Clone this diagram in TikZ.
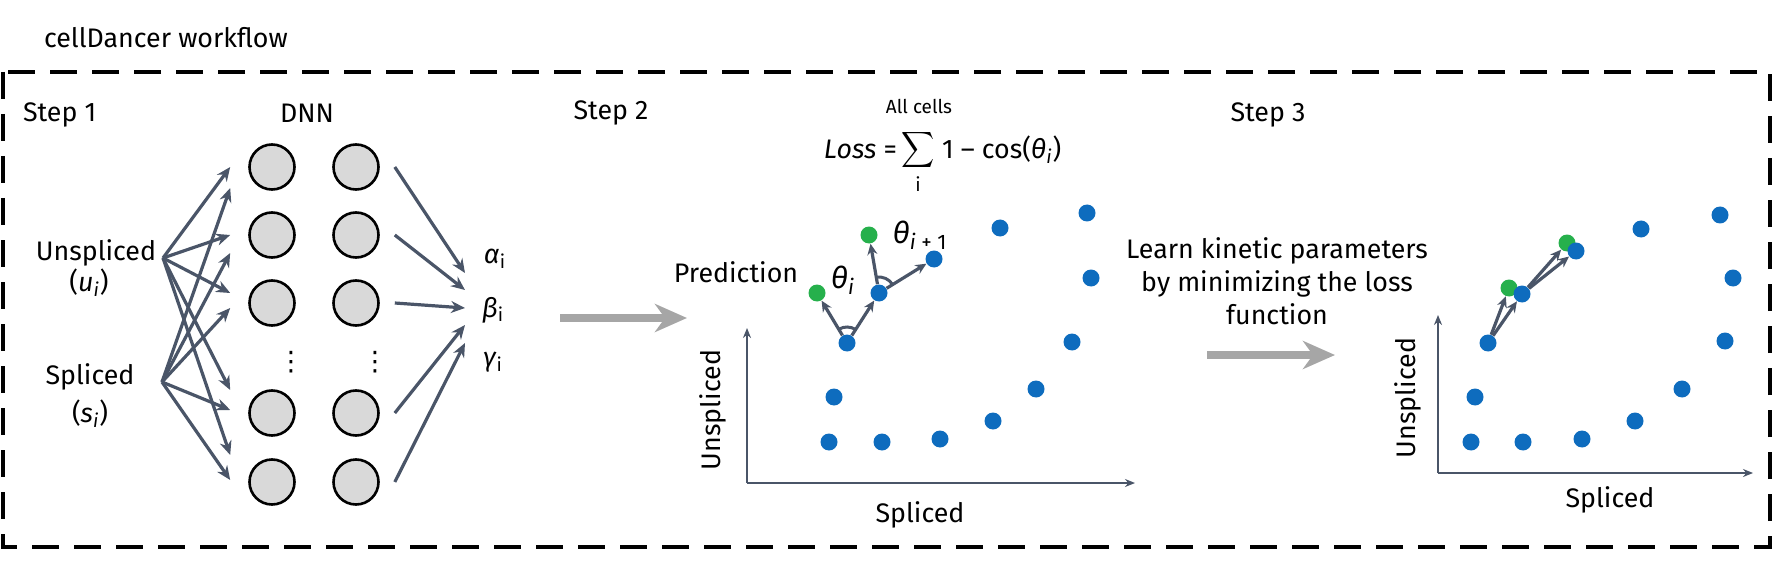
\documentclass[tikz,border=0pt]{standalone}
\usepackage{fontspec}
\setmainfont{Fira Sans}
\newfontfamily\symbolfont{DejaVu Sans}
\usepackage{tikz}
\usetikzlibrary{arrows.meta,positioning,calc,angles}
\definecolor{slate}{RGB}{74,85,104}
\definecolor{cellblue}{RGB}{14,108,190}
\definecolor{cellgreen}{RGB}{38,176,76}
\definecolor{neurongray}{RGB}{217,217,217}
\definecolor{shiftgray}{RGB}{166,166,166}
\tikzset{
	every node/.append style={font=\fontsize{13.4}{16}\selectfont},
	frame/.style = {draw=black, line width=1.7pt, dash pattern=on 13.5pt off 7.5pt},
	neuron/.style = {
			circle,
			draw = black,
			line width = 1.3pt,
			fill = neurongray,
			minimum size = 22.5pt,
			inner sep = 0pt,
		},
	cell/.style = {circle, fill=cellblue, minimum size=8.5pt, inner sep=0pt},
	predcell/.style = {circle, fill=cellgreen, minimum size=8.5pt, inner sep=0pt},
	flow/.style = {draw=slate, line width=1.6pt, -{Stealth[length=7pt,width=6pt]}},
	velo/.style = {draw=slate, line width=1.6pt, -{Stealth[length=5.5pt,width=5pt]}},
	axis/.style = {draw=slate, line width=0.9pt, -{Stealth[length=5pt,width=4pt]}},
	shiftarrow/.style = {draw=shiftgray, line width=4pt, -{Stealth[length=16pt,width=14pt,inset=5pt]}},
	anglemark/.style = {draw=slate, line width=1.5pt, angle radius=8pt},
	limit/.style = {font=\fontsize{9.5}{10}\selectfont, inner sep=1pt},
}

\begin{document}
\begin{tikzpicture}[x=0.5pt, y=-0.5pt]
	\useasboundingbox (0,0) rectangle (1775,561);

	\node[anchor=west] at (37,38) (title) {cellDancer workflow};
	\draw[frame] (3,72) rectangle (1770,547);

	% Step 1: the network
	\node[anchor=west] at (16,115) (stepone) {Step 1};
	\node at (307,113) (dnn) {DNN};
	\foreach \n/\y in {1/167, 2/235, 3/303, 4/413, 5/482} {
		\node[neuron] at (272,\y) (neuronA\n) {};
		\node[neuron] at (356,\y) (neuronB\n) {};
	}
	\node[inner sep=0pt] at (291,362) (dotsA) {\symbolfont ⋮};
	\node[inner sep=0pt] at (375,362) (dotsB) {\symbolfont ⋮};

	\node at (96,253) (unspliced) {Unspliced};
	\node at (89,283) (unsplicedvar) {(\textit{u}\textsubscript{\textit{i}})};
	\node at (90,377) (spliced) {Spliced};
	\node at (90,414) (splicedvar) {(\textit{s}\textsubscript{\textit{i}})};
	\coordinate (usrc) at (163,258);
	\coordinate (ssrc) at (162,382);

	\foreach \n/\du/\ds in {1/0/21, 2/0/18, 3/-10/5, 4/-23/-3, 5/-27/-2} {
		\draw[flow] (usrc) -- ($(neuronA\n.west)+(-18,\du)$);
		\draw[flow] (ssrc) -- ($(neuronA\n.west)+(-18,\ds)$);
	}

	\node at (495,259) (alpha) {\textit{α}\textsubscript{i}};
	\node at (493,310) (beta) {\textit{β}\textsubscript{i}};
	\node at (493,362) (gamma) {\textit{γ}\textsubscript{i}};
	\foreach \n/\ey in {1/273, 2/290, 3/308, 4/325, 5/343} {
		\coordinate (out\n) at (465,\ey);
		\draw[flow] ($(neuronB\n.east)+(15,0)$) -- (out\n);
	}

	\coordinate (gotwo) at (560,318);
	\coordinate (intwo) at (687,318);
	\draw[shiftarrow] (gotwo) -- (intwo);

	% Step 2: loss on the phase portrait
	\node at (611,113) (steptwo) {Step 2};
	\node[inner sep=0pt] at (918,150) (sigma) {\scalebox{1.15}[1.25]{$\displaystyle\sum$}};
	\node[anchor=base east] at (904,159) (lossleft) {\textit{Loss} =};
	\node[anchor=base west] at (935,159) (lossright) {1 – cos(\textit{θ}\textsubscript{\textit{i}})};
	\node[limit] at (919,106) (allcells) {All cells};
	\node[limit] at (918,184) (lossindex) {i};

	\coordinate (origintwo) at (747,483);
	\draw[axis] (origintwo) -- (747,328) coordinate (ytoptwo);
	\draw[axis] (origintwo) -- (1135,483) coordinate (xendtwo);
	\node[rotate=90] at (713,410) (ylabeltwo) {Unspliced};
	\node at (920,515) (xlabeltwo) {Spliced};

	\node[predcell] at (817,293) (s2pred1) {};
	\node[predcell] at (869,235) (s2pred2) {};
	\foreach \n/\x/\y in {1/847/343, 2/879/293, 3/934/259, 4/1000/228, 5/1087/213, 6/1091/278, 7/1072/342,
			8/1036/389, 9/993/421, 10/940/439, 11/882/442, 12/829/442, 13/834/397} {
		\node[cell] at (\x,\y) (s2cell\n) {};
	}
	\draw[velo] (s2cell1) -- (s2pred1);
	\draw[velo] (s2cell1) -- (s2cell2);
	\draw[velo] (s2cell2) -- (s2pred2);
	\draw[velo] (s2cell2) -- (s2cell3);
	\pic[anglemark] {angle = s2cell2--s2cell1--s2pred1};
	\pic[anglemark] {angle = s2cell3--s2cell2--s2pred2};

	\node at (736,272) (prediction) {Prediction};
	\node at (843,280) (thetai) {\fontsize{15}{17}\selectfont\textit{θ}\textsubscript{\textit{i}}};
	\node at (920,235) (thetanext) {\fontsize{15}{17}\selectfont\textit{θ}\textsubscript{\textit{i} + 1}};

	\coordinate (gothree) at (1207,355);
	\coordinate (inthree) at (1335,355);
	\draw[shiftarrow] (gothree) -- (inthree);

	% Step 3: fitted velocities
	\node at (1268,115) (stepthree) {Step 3};
	\node[align=center, font=\fontsize{13.4}{16.5}\selectfont] at (1277,281) (learn) {Learn kinetic parameters\\by minimizing the loss\\function};

	\coordinate (originthree) at (1438,473);
	\draw[axis] (originthree) -- (1438,315) coordinate (ytopthree);
	\draw[axis] (originthree) -- (1753,473) coordinate (xendthree);
	\node[rotate=90] at (1408,398) (ylabelthree) {Unspliced};
	\node at (1610,500) (xlabelthree) {Spliced};

	\node[predcell] at (1509,288) (s3pred1) {};
	\node[predcell] at (1567,243) (s3pred2) {};
	\foreach \n/\x/\y in {1/1488/343, 2/1522/294, 3/1576/251, 4/1641/229, 5/1720/215, 6/1733/278, 7/1725/341,
			8/1682/389, 9/1635/421, 10/1582/439, 11/1523/442, 12/1471/442, 13/1475/397} {
		\node[cell] at (\x,\y) (s3cell\n) {};
	}
	\draw[velo] (s3cell1) -- (s3pred1);
	\draw[velo] (s3cell1) -- (s3cell2);
	\draw[velo] (s3cell2) -- (s3pred2);
	\draw[velo] (s3cell2) -- (s3cell3);
\end{tikzpicture}
\end{document}
